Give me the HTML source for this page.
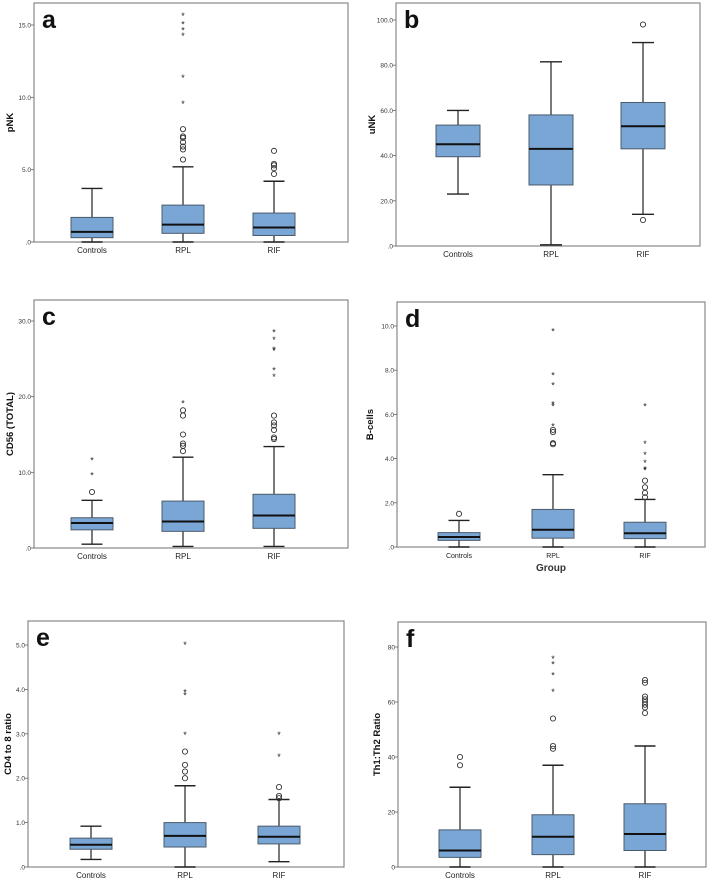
<!DOCTYPE html>
<html><head><meta charset="utf-8"><style>
body{margin:0;background:#fff;width:708px;height:880px;overflow:hidden;font-family:"Liberation Sans",sans-serif}
svg text{font-family:"Liberation Sans",sans-serif}
</style></head><body>
<svg id="chart" width="708" height="880" viewBox="0 0 708 880" xmlns="http://www.w3.org/2000/svg"></svg>
<script>
const categories=["Controls","RPL","RIF"];
// stats per group: [min,q1,median,q3,max]
const statsA=[[0,0.3,0.7,1.7,3.7],[0,0.6,1.2,2.55,5.2],[0,0.45,1.0,2.0,4.2]];
const circA=[[],[5.7,6.4,6.6,6.9,7.2,7.3,7.8],[4.7,5.1,5.3,5.4,6.3]];
const starA=[[],[9.6,11.4,14.3,14.7,15.1,15.7],[]];
const statsB=[[23,39.5,45,53.5,60],[0.5,27,43,58,81.5],[14,43,53,63.5,90]];
const circB=[[],[],[98,11.5]];
const starB=[[],[],[]];
const statsC=[[0.5,2.4,3.3,4.0,6.3],[0.2,2.2,3.5,6.2,12],[0.2,2.6,4.3,7.1,13.4]];
const circC=[[7.4],[12.8,13.5,13.8,15,17.5,18.2],[14.4,14.6,15.6,16.2,16.6,17.5]];
const starC=[[9.7,11.7],[19.2],[22.7,23.6,26.2,26.3,27.6,28.6]];
const statsD=[[0,0.3,0.45,0.65,1.2],[0,0.4,0.78,1.7,3.27],[0,0.38,0.62,1.12,2.15]];
const circD=[[1.5],[4.65,4.7,5.2,5.3],[2.25,2.45,2.7,3.0]];
const starD=[[],[5.5,6.4,6.5,7.35,7.8,9.8],[3.5,3.55,3.85,4.2,4.7,6.4]];
const statsE=[[0.17,0.4,0.5,0.65,0.92],[0,0.45,0.7,1.0,1.83],[0.12,0.52,0.68,0.92,1.52]];
const circE=[[],[2.0,2.15,2.3,2.6],[1.55,1.6,1.8]];
const starE=[[],[3.0,3.88,3.95,5.02],[2.5,3.0]];
const statsF=[[0,3.5,6,13.5,29],[0,4.5,11,19,37],[0,6,12,23,44]];
const circF=[[37,40],[43,44,54],[56,58,59,60,61,62,67,68]];
const starF=[[],[64,70,74,76],[]];
const ticksA=[0,5,10,15], tickLabA=[".0","5.0","10.0","15.0"];
const ticksB=[0,20,40,60,80,100], tickLabB=[".0","20.0","40.0","60.0","80.0","100.0"];
const ticksC=[0,10,20,30], tickLabC=[".0","10.0","20.0","30.0"];
const ticksD=[0,2,4,6,8,10], tickLabD=[".0","2.0","4.0","6.0","8.0","10.0"];
const ticksE=[0,1,2,3,4,5], tickLabE=[".0","1.0","2.0","3.0","4.0","5.0"];
const ticksF=[0,20,40,60,80], tickLabF=["0","20","40","60","80"];

const NS="http://www.w3.org/2000/svg";
const svg=document.getElementById('chart');
function mk(tag,attrs,parent,txt){const e=document.createElementNS(NS,tag);for(const k in attrs)e.setAttribute(k,attrs[k]);if(txt!==undefined)e.textContent=txt;(parent||svg).appendChild(e);return e;}

function panel(p){
  const g=mk('g',{});
  
  
  const y=v=>p.y0+(p.y1-p.y0)*(v-p.v0)/(p.v1-p.v0);
  const fr=mk('rect',{x:p.L,y:p.T,width:p.R-p.L,height:p.B-p.T,fill:'none',stroke:'#888','stroke-width':1.2},g);
  
  p.ticks.forEach((t,i)=>{
    mk('line',{x1:p.L-3,x2:p.L,y1:y(t),y2:y(t),stroke:'#666','stroke-width':0.8},g);
    const tl=mk('text',{x:p.L-3,y:y(t)+2.5,'font-size':6.5,'text-anchor':'end',fill:'#333'},g,p.tickLab[i]);
    
  });
  const lt=mk('text',{x:p.L+8,y:p.T+25,'font-size':25,'font-weight':'bold',fill:'#111'},g,p.letter);
  
  const yt=mk('text',{x:0,y:0,'font-size':9.5,'font-weight':'bold','text-anchor':'middle',fill:'#111',transform:`translate(${p.titleX},${(p.T+p.B)/2}) rotate(-90)`},g,p.title);
  
  const w=p.bw;
  categories.forEach((c,i)=>{
    const cx=p.cx[i], s=p.stats[i];
    const xl=mk('text',{x:cx,y:p.B+11,'font-size':p.xfs,'text-anchor':'middle',fill:'#222'},g,c);
    
    const bg=mk('g',{},g);
    
    mk('line',{x1:cx,x2:cx,y1:y(s[0]),y2:y(s[1]),stroke:'#222','stroke-width':1.2},bg);
    mk('line',{x1:cx,x2:cx,y1:y(s[3]),y2:y(s[4]),stroke:'#222','stroke-width':1.2},bg);
    mk('line',{x1:cx-w/4,x2:cx+w/4,y1:y(s[0]),y2:y(s[0]),stroke:'#222','stroke-width':1.4},bg);
    mk('line',{x1:cx-w/4,x2:cx+w/4,y1:y(s[4]),y2:y(s[4]),stroke:'#222','stroke-width':1.4},bg);
    mk('rect',{x:cx-w/2,y:y(s[3]),width:w,height:y(s[1])-y(s[3]),fill:'#7aa6d6',stroke:'#4b5b6b','stroke-width':1},bg);
    mk('line',{x1:cx-w/2,x2:cx+w/2,y1:y(s[2]),y2:y(s[2]),stroke:'#111','stroke-width':2},bg);
    p.circ[i].forEach(v=>{const o=mk('circle',{cx:cx,cy:y(v),r:2.6,fill:'none',stroke:'#333','stroke-width':0.9},bg);
      });
    p.star[i].forEach(v=>{const o=mk('text',{x:cx,y:y(v)+4,'font-size':9,'text-anchor':'middle',fill:'#222'},bg,'*');
      });
  });
  if(p.xtitle){const xt=mk('text',{x:(p.L+p.R)/2,y:p.B+24,'font-size':10,'font-weight':'bold','text-anchor':'middle',fill:'#333'},g,p.xtitle);
    }
}
panel({letter:'a',title:'pNK',titleX:13,L:34,R:348,T:3,B:242,y0:242,y1:25,v0:0,v1:15,ticks:ticksA,tickLab:tickLabA,stats:statsA,circ:circA,star:starA,cx:[92,183,274],bw:42,xfs:8});
panel({letter:'b',title:'uNK',titleX:375,L:396,R:700,T:3,B:246,y0:246,y1:20,v0:0,v1:100,ticks:ticksB,tickLab:tickLabB,stats:statsB,circ:circB,star:starB,cx:[458,551,643],bw:44,xfs:8});
panel({letter:'c',title:'CD56 (TOTAL)',titleX:13,L:34,R:348,T:300,B:548,y0:548,y1:321,v0:0,v1:30,ticks:ticksC,tickLab:tickLabC,stats:statsC,circ:circC,star:starC,cx:[92,183,274],bw:42,xfs:8});
panel({letter:'d',title:'B-cells',titleX:373,L:397,R:705,T:302,B:547,y0:547,y1:326,v0:0,v1:10,ticks:ticksD,tickLab:tickLabD,stats:statsD,circ:circD,star:starD,cx:[459,553,645],bw:42,xfs:7,xtitle:'Group'});
panel({letter:'e',title:'CD4 to 8 ratio',titleX:11,L:28,R:344,T:621,B:867,y0:867,y1:645,v0:0,v1:5,ticks:ticksE,tickLab:tickLabE,stats:statsE,circ:circE,star:starE,cx:[91,185,279],bw:42,xfs:8});
panel({letter:'f',title:'Th1:Th2 Ratio',titleX:380,L:398,R:706,T:622,B:867,y0:867,y1:647,v0:0,v1:80,ticks:ticksF,tickLab:tickLabF,stats:statsF,circ:circF,star:starF,cx:[460,553,645],bw:42,xfs:8});
</script>
</body></html>
